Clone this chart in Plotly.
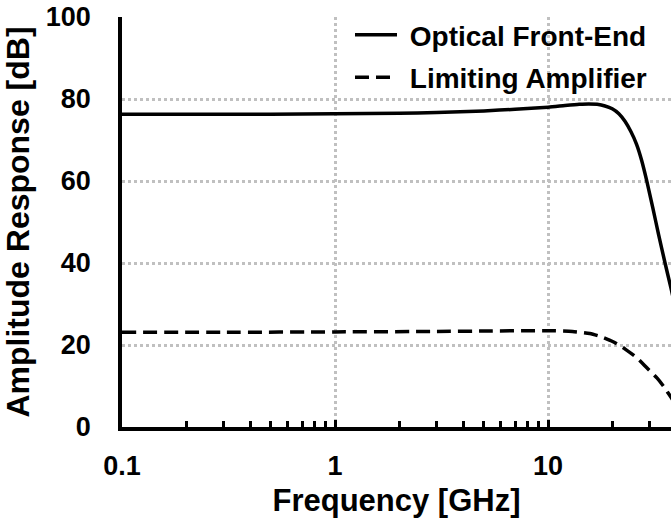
import plotly.graph_objects as go

# Data
freq_ofe = [0.1, 0.2, 0.5, 1, 2, 3, 5, 7, 10, 12, 14, 15.5, 17, 18.5, 20, 21.5, 23, 24.5, 26, 27.5, 29, 31, 33, 35.4, 37.7, 40]
amp_ofe = [76.3, 76.3, 76.3, 76.4, 76.5, 76.7, 77.1, 77.5, 78.0, 78.4, 78.7, 78.8, 78.7, 78.3, 77.6, 76.4, 74.5, 72.0, 69.0, 65.0, 60.2, 53.5, 47.0, 40.0, 34.0, 28.0]

freq_la = [0.1, 0.3, 1, 3, 5, 10, 13, 15.7, 18, 20.2, 23, 26.2, 29, 32.5, 35, 37.7, 40]
amp_la = [23.1, 23.1, 23.2, 23.3, 23.4, 23.5, 23.3, 22.8, 21.9, 20.8, 19.0, 16.8, 14.5, 11.9, 9.8, 7.3, 5.2]

y_ticks = [0, 20, 40, 60, 80, 100]
x_ticks = [0.1, 1, 10]
x_ticklabels = ["0.1", "1", "10"]

FONT = "Arial, Liberation Sans, sans-serif"

fig = go.Figure()
fig.add_trace(go.Scatter(
    x=freq_ofe, y=amp_ofe, mode="lines", name="\u00a0Optical Front-End",
    line=dict(color="black", width=3.5, shape="spline", smoothing=0.6),
    legendgroup="a"))
fig.add_trace(go.Scatter(
    x=freq_la, y=amp_la, mode="lines", name="\u00a0Limiting Amplifier",
    line=dict(color="black", width=3.5, dash="14px,7px", shape="spline", smoothing=0.6),
    legendgroup="b"))

fig.update_layout(
    width=671, height=519,
    margin=dict(l=122, r=0, t=17, b=92),
    paper_bgcolor="white", plot_bgcolor="white",
    font=dict(family=FONT, color="black"),
    showlegend=True,
    legend=dict(
        x=0.4153, y=1.0167, xanchor="left", yanchor="top",
        bgcolor="rgba(0,0,0,0)", borderwidth=0,
        font=dict(size=28, family=FONT, color="black", weight="bold"),
        tracegroupgap=3, itemwidth=42,
    ),
)

fig.update_xaxes(
    type="log", range=[-1, 1.577],
    tickvals=x_ticks, ticktext=x_ticklabels,
    tickfont=dict(size=27, family=FONT, weight="bold"),
    ticks="inside", ticklen=7, tickwidth=3, tickcolor="black",
    minor=dict(ticks="inside", ticklen=6, tickwidth=3, tickcolor="black",
               tickvals=[0.2, 0.3, 0.4, 0.5, 0.6, 0.7, 0.8, 0.9,
                         2, 3, 4, 5, 6, 7, 8, 9, 20, 30],
               showgrid=False),
    showline=True, linecolor="black", linewidth=3.5,
    showgrid=True, gridcolor="#c0c0c0", gridwidth=2.5, griddash="dot",
    zeroline=False, ticklabelstandoff=12,
    title=dict(text="Frequency [GHz]", font=dict(size=31, family=FONT, weight="bold"), standoff=10),
)
fig.update_yaxes(
    range=[0, 100], tickvals=y_ticks,
    tickfont=dict(size=27, family=FONT, weight="bold"),
    ticks="",
    showline=True, linecolor="black", linewidth=3.5,
    showgrid=True, gridcolor="#c0c0c0", gridwidth=2.5, griddash="dot",
    zeroline=False, ticklabelstandoff=22,
    title=dict(text="Amplitude Response [dB]", font=dict(size=32, family=FONT, weight="bold"), standoff=8),
)

fig.write_html("out.html")
